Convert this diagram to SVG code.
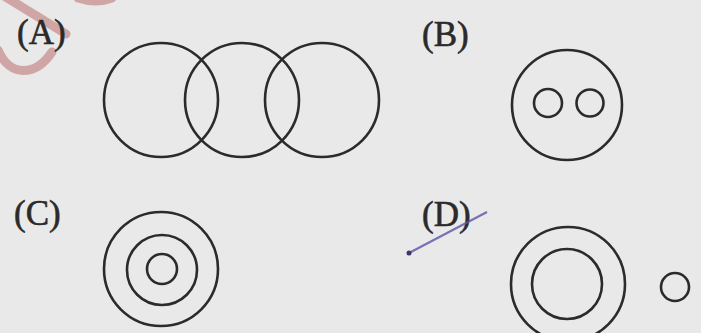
<svg xmlns="http://www.w3.org/2000/svg" width="701" height="333" viewBox="0 0 701 333">
<defs>
<style>
.c{fill:none;stroke:#2b2b2b;stroke-width:2.6}
.lbl{font-family:"Liberation Serif","DejaVu Serif",serif;font-size:35px;fill:#2a2a2a;stroke:#2a2a2a;stroke-width:0.6}
.wm{fill:none;stroke:#c07878;stroke-opacity:0.6;stroke-width:9;stroke-linecap:round}
</style>
</defs>
<rect width="701" height="333" fill="#e9e9e9"/>
<g id="watermark">
<path class="wm" d="M4,-4 L66,34"/>
<path class="wm" d="M-2,50 C10,78 36,76 52,52"/>
<path class="wm" d="M78,-2 Q96,4 112,-2"/>
</g>
<g id="optionA">
<text class="lbl" x="17" y="44">(A)</text>
<circle class="c" cx="161" cy="100" r="57"/>
<circle class="c" cx="242" cy="100" r="57"/>
<circle class="c" cx="322" cy="100" r="57"/>
</g>
<g id="optionB">
<text class="lbl" x="422" y="46">(B)</text>
<circle class="c" cx="567" cy="105" r="55"/>
<circle class="c" cx="548" cy="103" r="14"/>
<circle class="c" cx="590" cy="103" r="13.5"/>
</g>
<g id="optionC">
<text class="lbl" x="14" y="225">(C)</text>
<circle class="c" cx="161" cy="269" r="57"/>
<circle class="c" cx="162" cy="270" r="35"/>
<circle class="c" cx="162" cy="269" r="15"/>
</g>
<g id="optionD">
<text class="lbl" x="422" y="226">(D)</text>
<path d="M409,253 L487,212" stroke="#5a52a8" stroke-opacity="0.8" stroke-width="2.2" fill="none"/>
<circle cx="409" cy="253" r="2.5" fill="#3a3a6a"/>
<circle class="c" cx="568" cy="284" r="57"/>
<circle class="c" cx="567" cy="284" r="35"/>
<circle class="c" cx="675" cy="287" r="14"/>
</g>
</svg>
